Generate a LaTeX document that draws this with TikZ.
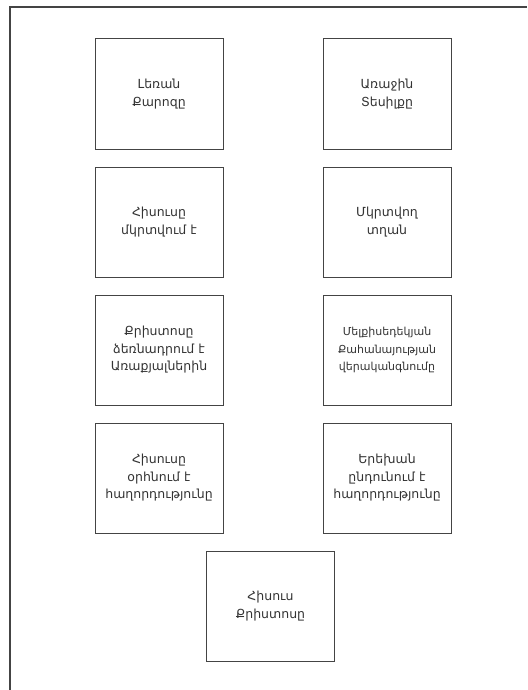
\documentclass[tikz,border=0pt]{standalone}
\usepackage{fontspec}
\newfontfamily\armfont{DejaVu Sans}
\definecolor{linegray}{HTML}{444444}
\definecolor{textgray}{HTML}{333333}
\begin{document}
\begin{tikzpicture}[x=1pt,y=-1pt,
  box/.style={draw=linegray, line width=1pt, rectangle, minimum width=128pt, minimum height=110pt,
    align=center, text=textgray, font=\armfont\fontsize{12.5}{17.5}\selectfont, inner sep=0pt},
  frame/.style={draw=linegray, line width=1.3pt}]
\useasboundingbox (0,0) rectangle (527,690);
\coordinate (fa) at (10,690);
\coordinate (fb) at (10,7);
\coordinate (fc) at (527,7);
\draw[frame] (fa) -- (fb) -- (fc);
\node[box] (n1) at (159,94) {Լեռան\\Քարոզը};
\node[box] (n2) at (387,94) {Առաջին\\Տեսիլքը};
\node[box] (n3) at (159,222) {Հիսուսը\\մկրտվում է};
\node[box] (n4) at (387,222) {Մկրտվող\\տղան};
\node[box] (n5) at (159,350) {Քրիստոսը\\ձեռնադրում է\\Առաքյալներին};
\node[box, font=\armfont\fontsize{11}{17.5}\selectfont] (n6) at (387,350) {Մելքիսեդեկյան\\Քահանայության\\վերականգնումը};
\node[box] (n7) at (159,478) {Հիսուսը\\օրհնում է\\հաղորդությունը};
\node[box] (n8) at (387,478) {Երեխան\\ընդունում է\\հաղորդությունը};
\node[box] (n9) at (270.5,606) {Հիսուս\\Քրիստոսը};
\end{tikzpicture}
\end{document}
